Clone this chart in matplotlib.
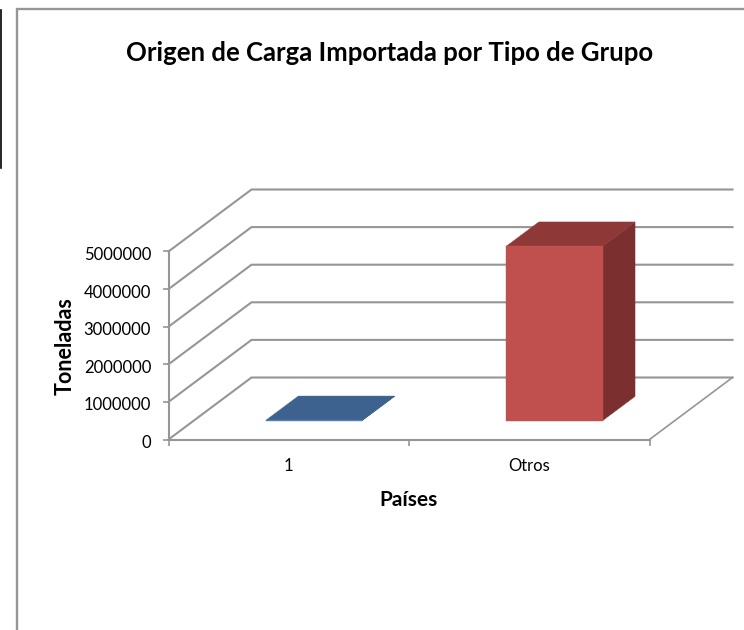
import matplotlib
matplotlib.use("Agg")
import matplotlib.pyplot as plt
from matplotlib.lines import Line2D
from matplotlib.patches import Polygon
from matplotlib.transforms import Affine2D

categories = ["1", "Otros"]
toneladas = [10000, 4640000]
bar_colors = ["#4F81BD", "#C0504D"]
side_colors = ["#2F4F77", "#7B302F"]
top_colors = ["#3E6290", "#8E3937"]
y_ticks = [0, 1000000, 2000000, 3000000, 4000000, 5000000]

W, H = 744, 630
GREY = "#969696"
plt.rcParams["font.family"] = ["Lato", "DejaVu Sans"]

fig = plt.figure(figsize=(W / 100, H / 100), dpi=100)

# front plane of the fake 3d box, pixel box from the picture
left, right, top, bottom = 168.5, 649.5, 251.5, 439.5
ax = fig.add_axes([left / W, 1 - bottom / H, (right - left) / W, (bottom - top) / H])
ax.set_xlim(0, len(categories))
ax.set_ylim(0, 5000000)
ax.patch.set_visible(False)

# depth goes up and to the right
per_x = (right - left) / len(categories)
per_y = (bottom - top) / 5000000
depth_x = 83 / per_x
depth_y = 62 / per_y


def pt(c, v, d):
    return c + d * depth_x, v + d * depth_y


def poly(points, color, z):
    ax.add_patch(Polygon([pt(*p) for p in points], closed=True, facecolor=color,
                         edgecolor=color, linewidth=0.3, zorder=z, clip_on=False))


n = len(categories)
for v in y_ticks:
    xs, ys = zip(pt(0, v, 0), pt(0, v, 1), pt(n, v, 1))
    ax.plot(xs, ys, color=GREY, lw=1.5, zorder=1, clip_on=False, solid_joinstyle="miter")
xs, ys = zip(pt(n, 0, 0), pt(n, 0, 1))
ax.plot(xs, ys, color=GREY, lw=1.2, zorder=1, clip_on=False)

# bars, gap width 150% and same for depth
bar_w = 0.4
d0, d1 = 0.305, 0.695
for i, val in enumerate(toneladas):
    x0 = i + 0.5 - bar_w / 2
    x1 = i + 0.5 + bar_w / 2
    poly([(x1, 0, d0), (x1, 0, d1), (x1, val, d1), (x1, val, d0)], side_colors[i], 3)
    poly([(x0, val, d0), (x1, val, d0), (x1, val, d1), (x0, val, d1)], top_colors[i], 3)
    poly([(x0, 0, d0), (x1, 0, d0), (x1, val, d0), (x0, val, d0)], bar_colors[i], 4)

for s in ["top", "right"]:
    ax.spines[s].set_visible(False)
for s in ["left", "bottom"]:
    ax.spines[s].set_color(GREY)
    ax.spines[s].set_linewidth(1.5)

ax.set_yticks(y_ticks)
ax.set_yticklabels([str(v) for v in y_ticks])
ax.set_xticks(range(n + 1))
ax.set_xticklabels([])
ax.set_xticks([i + 0.5 for i in range(n)], categories, minor=True)
ax.tick_params(axis="y", length=4, width=1.2, color=GREY, labelsize=12, pad=8.5, labelcolor="black")
ax.tick_params(axis="x", which="major", length=4, width=1.2, color=GREY)
ax.tick_params(axis="x", which="minor", length=0, labelsize=12, pad=13.5, labelcolor="black")
for lab in ax.get_yticklabels():
    lab.set_transform(lab.get_transform() + Affine2D().translate(0, -2))

fig.text(390 / W, 1 - 53 / H, "Origen de Carga Importada por Tipo de Grupo", ha="center", va="center",
         fontsize=18.5, fontweight="bold")
fig.text(409 / W, 1 - 500.5 / H, "Países", ha="center", va="center", fontsize=15, fontweight="bold")
fig.text(65 / W, 1 - 346 / H, "Toneladas", ha="center", va="center", rotation=90, fontsize=15.5,
         fontweight="bold")

# chart frame runs off the image on the right and bottom, black sliver on the left
fig.add_artist(Line2D([17 / W, 17 / W, 1], [0, 1 - 9 / H, 1 - 9 / H], color=GREY, lw=1.7,
                      solid_joinstyle="miter"))
fig.add_artist(Line2D([0.5 / W, 0.5 / W], [1 - 10 / H, 1 - 168 / H], color="black", lw=1.2))

fig.savefig("out.png", dpi=100)
